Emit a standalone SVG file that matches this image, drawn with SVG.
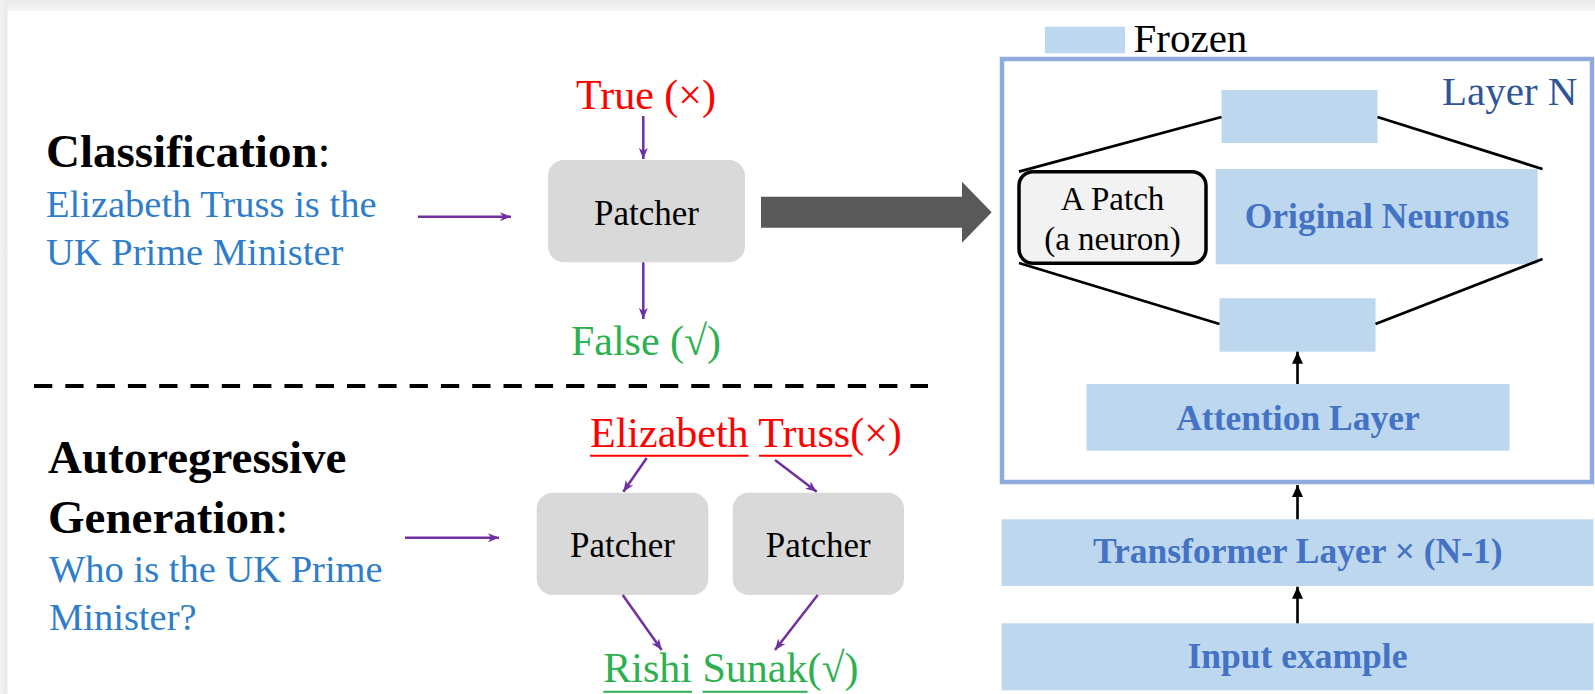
<svg xmlns="http://www.w3.org/2000/svg" width="1595" height="694" viewBox="0 0 1595 694">
  <defs>
    <linearGradient id="topShade" x1="0" y1="0" x2="0" y2="1">
      <stop offset="0" stop-color="#E9E9E9"/>
      <stop offset="1" stop-color="#F6F6F6"/>
    </linearGradient>
    <linearGradient id="leftShade" x1="0" y1="0" x2="1" y2="0">
      <stop offset="0" stop-color="#F3F3F3"/>
      <stop offset="1" stop-color="#E8E8E8"/>
    </linearGradient>
    <marker id="headPurple" markerUnits="userSpaceOnUse" markerWidth="13" markerHeight="11" refX="11" refY="4.5" orient="auto">
      <path d="M0,0 L11,4.5 L0,9 L3,4.5 Z" fill="#7030A0"/>
    </marker>
    <marker id="headBlack" markerUnits="userSpaceOnUse" markerWidth="14" markerHeight="14" refX="12" refY="5.5" orient="auto">
      <path d="M0,0 L12,5.5 L0,11 Z" fill="#000"/>
    </marker>
  </defs>
  <style>
    .serif { font-family: "Liberation Serif", "Times New Roman", serif; }
    .title { font-size: 47px; font-weight: bold; fill: #000; }
    .query { font-size: 38.5px; fill: #2E7DCB; }
    .wrong { font-size: 42px; fill: #FF0000; }
    .right { font-size: 42px; fill: #2DB04F; }
    .patcher rect { fill: #D9D9D9; }
    .patcher text { font-size: 35px; fill: #000; text-anchor: middle; }
    .frozen { fill: #BDD7EE; }
    .layerLabel { font-size: 35.5px; font-weight: bold; fill: #4472C4; text-anchor: middle; }
    .purple { stroke: #7030A0; stroke-width: 2.5; fill: none; marker-end: url(#headPurple); }
    .black { stroke: #000; stroke-width: 2.8; fill: none; }
    .blackArrow { stroke: #000; stroke-width: 2.6; fill: none; marker-end: url(#headBlack); }
  </style>

  <!-- page -->
  <rect x="0" y="0" width="1595" height="694" fill="#FFFFFF"/>
  <rect x="0" y="0" width="1595" height="11" fill="url(#topShade)"/>
  <rect x="0" y="0" width="7.5" height="694" fill="url(#leftShade)"/>

  <!-- left column: task descriptions -->
  <g id="classification-label" class="serif">
    <text class="title" x="46" y="167">Classification<tspan font-weight="normal">:</tspan></text>
    <text class="query" x="46" y="216.7">Elizabeth Truss is the</text>
    <text class="query" x="46" y="265">UK Prime Minister</text>
  </g>

  <g id="separator">
    <line x1="34" y1="386" x2="928" y2="386" stroke="#000" stroke-width="4" stroke-dasharray="18.3 13"/>
  </g>

  <g id="generation-label" class="serif">
    <text class="title" x="48" y="473.3">Autoregressive</text>
    <text class="title" x="48" y="533.3">Generation<tspan font-weight="normal">:</tspan></text>
    <text class="query" x="49" y="581.7">Who is the UK Prime</text>
    <text class="query" x="49" y="630">Minister?</text>
  </g>

  <!-- classification patcher -->
  <g id="true-label" class="serif">
    <text class="wrong" x="646" y="109" text-anchor="middle">True (×)</text>
  </g>
  <g id="patcher-cls" class="patcher serif">
    <rect x="548" y="160" width="197" height="102.3" rx="16"/>
    <text x="646.5" y="225">Patcher</text>
  </g>
  <g id="false-label" class="serif">
    <text class="right" x="646" y="355" text-anchor="middle">False (√)</text>
  </g>

  <!-- generation patchers -->
  <g id="wrong-tokens" class="serif">
    <text class="wrong" x="590" y="446.7">Elizabeth Truss(×)</text>
    <line x1="590" y1="455.7" x2="748.6" y2="455.7" stroke="#FF0000" stroke-width="2"/>
    <line x1="759" y1="455.7" x2="852" y2="455.7" stroke="#FF0000" stroke-width="2"/>
  </g>
  <g id="patcher-gen-1" class="patcher serif">
    <rect x="536.7" y="492.7" width="171.6" height="102.3" rx="16"/>
    <text x="622.5" y="556.7">Patcher</text>
  </g>
  <g id="patcher-gen-2" class="patcher serif">
    <rect x="732.7" y="492.7" width="171.3" height="102.3" rx="16"/>
    <text x="818.3" y="556.7">Patcher</text>
  </g>
  <g id="right-tokens" class="serif">
    <text class="right" x="603.3" y="681.7">Rishi Sunak(√)</text>
    <line x1="603.3" y1="691.7" x2="692" y2="691.7" stroke="#2DB04F" stroke-width="2"/>
    <line x1="702.5" y1="691.7" x2="807.5" y2="691.7" stroke="#2DB04F" stroke-width="2"/>
  </g>

  <!-- right column: model stack -->
  <g id="legend" class="serif">
    <rect class="frozen" x="1045" y="26.7" width="80" height="26.6"/>
    <text x="1133.5" y="52.3" font-size="41" fill="#000">Frozen</text>
  </g>

  <g id="layer-n" class="serif">
    <rect x="1002" y="59" width="590" height="423" fill="none" stroke="#8FAADC" stroke-width="4.5"/>
    <text x="1442" y="105" font-size="41" fill="#2F5597">Layer N</text>
  </g>

  <g id="ffn-top">
    <rect class="frozen" x="1221.5" y="90" width="156" height="53"/>
  </g>
  <g id="patch-neuron" class="serif">
    <rect x="1019" y="171.7" width="187" height="91.6" rx="14" fill="#F2F2F2" stroke="#000" stroke-width="3.5"/>
    <text x="1112.5" y="210" font-size="33" fill="#000" text-anchor="middle">A Patch</text>
    <text x="1112.5" y="250" font-size="33" fill="#000" text-anchor="middle">(a neuron)</text>
  </g>
  <g id="original-neurons" class="serif">
    <rect class="frozen" x="1215.7" y="169" width="322" height="95.3"/>
    <text class="layerLabel" x="1377" y="228.3">Original Neurons</text>
  </g>
  <g id="ffn-bottom">
    <rect class="frozen" x="1219.5" y="298.3" width="156" height="53.4"/>
  </g>
  <g id="attention" class="serif">
    <rect class="frozen" x="1086.5" y="384" width="423" height="66.7"/>
    <text class="layerLabel" x="1298" y="430">Attention Layer</text>
  </g>
  <g id="transformer" class="serif">
    <rect class="frozen" x="1001.6" y="519.3" width="591.7" height="66.7"/>
    <text class="layerLabel" x="1297.8" y="563.3">Transformer Layer × (N-1)</text>
  </g>
  <g id="input" class="serif">
    <rect class="frozen" x="1001.6" y="623.3" width="591.7" height="67"/>
    <text class="layerLabel" x="1297.5" y="668">Input example</text>
  </g>

  <!-- connectors -->
  <g id="connectors">
    <line class="purple" x1="418" y1="216.7" x2="511" y2="216.7"/>
    <line class="purple" x1="405" y1="537.7" x2="499" y2="537.7"/>
    <line class="purple" x1="643.3" y1="116" x2="643.3" y2="159"/>
    <line class="purple" x1="643.3" y1="262.3" x2="643.3" y2="319"/>
    <line class="purple" x1="646.7" y1="458" x2="623.3" y2="491.7"/>
    <line class="purple" x1="775" y1="460" x2="816.7" y2="491.7"/>
    <line class="purple" x1="622.7" y1="595" x2="661.7" y2="650"/>
    <line class="purple" x1="817.7" y1="595" x2="775" y2="650"/>

    <polygon points="761,196.7 962,196.7 962,181.7 991.7,212.2 962,242.7 962,227.7 761,227.7" fill="#595959"/>

    <line class="black" x1="1221.5" y1="117" x2="1019" y2="171.7"/>
    <line class="black" x1="1377.5" y1="117" x2="1542.5" y2="169"/>
    <line class="black" x1="1019" y1="263" x2="1219.5" y2="324"/>
    <line class="black" x1="1375.5" y1="324" x2="1542.5" y2="259"/>

    <line class="blackArrow" x1="1297.5" y1="384" x2="1297.5" y2="351.7"/>
    <line class="blackArrow" x1="1297.5" y1="519.3" x2="1297.5" y2="485"/>
    <line class="blackArrow" x1="1297.5" y1="623.3" x2="1297.5" y2="586.7"/>
  </g>
</svg>
